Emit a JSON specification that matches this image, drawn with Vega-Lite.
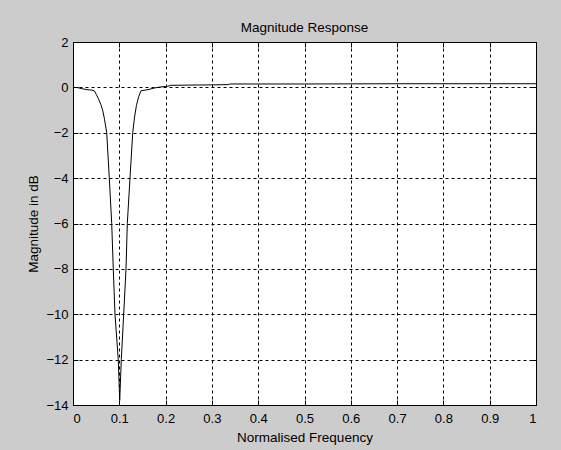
{
  "$schema": "https://vega.github.io/schema/vega-lite/v6.json",
  "autosize": "none",
  "width": 463,
  "height": 363,
  "padding": {"left": 73, "top": 42, "right": 25, "bottom": 45},
  "background": "#cccccc",
  "title": {"text": "Magnitude Response", "font": "Liberation Sans", "fontSize": 13.5, "fontWeight": "normal", "color": "#000000", "offset": 2, "anchor": "middle"},
  "config": {
    "view": {"fill": "#ffffff", "stroke": "#000000", "strokeWidth": 1},
    "axis": {
      "labelFont": "Liberation Sans", "labelFontSize": 13, "labelColor": "#000000",
      "titleFont": "Liberation Sans", "titleFontSize": 13.5, "titleFontWeight": "normal", "titleColor": "#000000",
      "domainColor": "#000000", "tickColor": "#000000", "tickSize": -5,
      "gridColor": "#000000", "gridDash": [3, 3], "gridOpacity": 1, "gridWidth": 1
    }
  },
  "data": {"values": [
    {"f": 0.0, "db": 0.0},
    {"f": 0.01, "db": -0.01},
    {"f": 0.02, "db": -0.06},
    {"f": 0.03, "db": -0.1},
    {"f": 0.04, "db": -0.12},
    {"f": 0.046, "db": -0.15},
    {"f": 0.05, "db": -0.3},
    {"f": 0.055, "db": -0.5},
    {"f": 0.06, "db": -0.75},
    {"f": 0.064, "db": -1.0},
    {"f": 0.068, "db": -1.4},
    {"f": 0.0728, "db": -2.0},
    {"f": 0.0784, "db": -4.0},
    {"f": 0.0836, "db": -6.0},
    {"f": 0.087, "db": -8.0},
    {"f": 0.0907, "db": -10.0},
    {"f": 0.0978, "db": -12.0},
    {"f": 0.1009, "db": -13.8},
    {"f": 0.1043, "db": -12.0},
    {"f": 0.1095, "db": -10.0},
    {"f": 0.1145, "db": -8.0},
    {"f": 0.1173, "db": -6.0},
    {"f": 0.1231, "db": -4.0},
    {"f": 0.129, "db": -2.0},
    {"f": 0.133, "db": -1.3},
    {"f": 0.137, "db": -0.8},
    {"f": 0.142, "db": -0.4},
    {"f": 0.147, "db": -0.15},
    {"f": 0.162, "db": -0.1},
    {"f": 0.175, "db": -0.03},
    {"f": 0.19, "db": 0.02},
    {"f": 0.205, "db": 0.05},
    {"f": 0.21, "db": 0.09},
    {"f": 0.25, "db": 0.1},
    {"f": 0.3, "db": 0.11},
    {"f": 0.333, "db": 0.12},
    {"f": 0.34, "db": 0.15},
    {"f": 0.5, "db": 0.15},
    {"f": 0.7, "db": 0.16},
    {"f": 1.0, "db": 0.16}
  ]},
  "layer": [
    {
      "mark": {"type": "line", "color": "#000000", "strokeWidth": 1, "clip": true},
      "encoding": {
        "x": {"field": "f", "type": "quantitative", "scale": {"domain": [0, 1], "nice": false, "zero": false},
          "axis": {"title": "Normalised Frequency", "values": [0, 0.1, 0.2, 0.3, 0.4, 0.5, 0.6, 0.7, 0.8, 0.9, 1], "format": "~g", "labelPadding": 12, "titlePadding": 5, "grid": true}},
        "y": {"field": "db", "type": "quantitative", "scale": {"domain": [-14, 2], "nice": false, "zero": false},
          "axis": {"title": "Magnitude in dB", "values": [-14, -12, -10, -8, -6, -4, -2, 0, 2], "labelPadding": 10, "titlePadding": 5, "grid": true}}
      }
    },
    {
      "mark": {"type": "line", "opacity": 0},
      "encoding": {
        "x": {"field": "f", "type": "quantitative", "scale": {"domain": [0, 1], "nice": false, "zero": false},
          "axis": {"orient": "top", "title": null, "labels": false, "grid": false, "values": [0, 0.1, 0.2, 0.3, 0.4, 0.5, 0.6, 0.7, 0.8, 0.9, 1]}},
        "y": {"field": "db", "type": "quantitative", "scale": {"domain": [-14, 2], "nice": false, "zero": false},
          "axis": {"orient": "right", "title": null, "labels": false, "grid": false, "values": [-14, -12, -10, -8, -6, -4, -2, 0, 2]}}
      }
    }
  ],
  "resolve": {"axis": {"x": "independent", "y": "independent"}}
}
